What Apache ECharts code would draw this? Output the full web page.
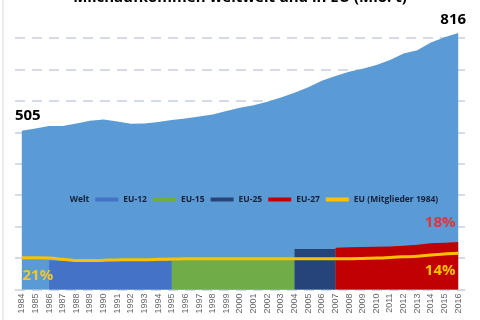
<!DOCTYPE html>
<html>
<head>
<meta charset="utf-8">
<script src="https://cdn.jsdelivr.net/npm/echarts@6/dist/echarts.min.js"></script>
<style>
  html, body { margin: 0; padding: 0; background: #fff; }
  #main { width: 480px; height: 320px; }
</style>
</head>
<body>
<div id="main"></div>
<script>
var years = ['1984','1985','1986','1987','1988','1989','1990','1991','1992','1993','1994',
  '1995','1996','1997','1998','1999','2000','2001','2002','2003','2004','2005',
  '2006','2007','2008','2009','2010','2011','2012','2013','2014','2015','2016'];

// Mio. t
var welt = [505, 512, 520, 520, 528, 537, 541, 534, 527, 528, 533,
  539, 544, 550, 557, 568, 578, 586, 597, 611, 626, 643,
  664, 679, 693, 702, 714, 730, 751, 761, 786, 802, 816];

var eu12 = [null, null, 92, 92, 92, 92, 92, 92, 92, 91, 91, 91];
var eu15Years = ['1995','1996','1997','1998','1999','2000','2001','2002','2003','2004'];
var eu15 = [104, 104, 104, 104, 104, 104, 104, 104, 104, 104];
var eu25Years = ['2004','2005','2006','2007'];
var eu25 = [129, 129, 129, 129];
var eu27Years = ['2007','2008','2009','2010','2011','2012','2013','2014','2015','2016'];
var eu27 = [133, 134, 135, 136, 137, 139, 142, 147, 149, 151];

var eu1984 = [101, 101, 100, 96, 92, 92, 93, 94, 95, 95, 96,
  97, 98, 98, 98, 98, 98, 98, 98, 98, 98, 98,
  98, 98, 98, 99, 100, 102, 104, 106, 110, 113, 115];

var shareLabels = ['21%', '18%', '14%'];

function onYears(subYears, vals) {
  return years.map(function (y) {
    var i = subYears.indexOf(y);
    return i < 0 ? null : vals[i];
  });
}

var chart = echarts.init(document.getElementById('main'));

var weltData = welt.map(function (v, i) {
  if (i === 0) {
    return { value: v, label: { show: true, position: 'top', distance: 8, offset: [6, 0] } };
  }
  if (i === welt.length - 1) {
    return { value: v, label: { show: true, position: 'top', distance: 6, offset: [-5, 0] } };
  }
  return v;
});

var eu27Data = onYears(eu27Years, eu27).map(function (v, i) {
  if (i === years.length - 1) {
    return { value: v, label: { show: true, formatter: shareLabels[1], position: 'top',
      distance: 12, offset: [-18, 0], color: '#e3323a', fontSize: 15, fontWeight: 'bold',
      fontFamily: 'Open Sans' } };
  }
  return v;
});

var yellowData = eu1984.map(function (v, i) {
  if (i === 0) {
    return { value: v, label: { show: true, formatter: shareLabels[0], position: 'bottom',
      distance: 10, offset: [16, 0], color: '#f4c531', fontSize: 15, fontWeight: 'bold',
      fontFamily: 'Open Sans' } };
  }
  if (i === eu1984.length - 1) {
    return { value: v, label: { show: true, formatter: shareLabels[2], position: 'bottom',
      distance: 10, offset: [-18, 0], color: '#ffc000', fontSize: 15, fontWeight: 'bold',
      fontFamily: 'Open Sans' } };
  }
  return v;
});

function areaSeries(name, data, color) {
  return {
    name: name,
    type: 'line',
    data: data,
    symbol: 'circle',
    symbolSize: 0,
    showSymbol: true,
    clip: false,
    lineStyle: { width: 0, color: color },
    areaStyle: { color: color, opacity: 1 },
    itemStyle: { color: color },
    label: { show: false },
    emphasis: { disabled: true }
  };
}

var welSeries = areaSeries('Welt', weltData, '#5b9bd5');
welSeries.label = { show: false, color: '#000', fontSize: 15, fontWeight: 'bold', fontFamily: 'Open Sans' };

var option = {
  animation: false,
  grid: { left: 15, right: 15, top: 38, bottom: 30.5 },
  graphic: [
    { type: 'text', left: 'center', top: -10,
      style: { text: 'Milchaufkommen weltweit und in EU (Mio. t)', fontSize: 15,
        fontWeight: 'bold', fill: '#000', fontFamily: 'Open Sans' } },
    { type: 'line', shape: { x1: 3, y1: 0, x2: 3, y2: 320 },
      style: { stroke: '#d9d9d9', lineWidth: 1 } }
  ],
  legend: {
    left: 'center',
    top: 190,
    itemWidth: 23,
    itemHeight: 4,
    itemGap: 6,
    icon: 'rect',
    textStyle: { fontSize: 8.5, fontWeight: 'bold', color: '#14203a', fontFamily: 'Open Sans' },
    data: ['Welt', 'EU-12', 'EU-15', 'EU-25', 'EU-27', 'EU (Mitglieder 1984)']
  },
  xAxis: {
    type: 'category',
    data: years,
    boundaryGap: true,
    axisTick: { show: false },
    axisLine: { show: true, lineStyle: { color: '#d9d9d9', width: 1 } },
    axisLabel: { rotate: 90, fontSize: 9, color: '#666666', margin: 4, fontFamily: 'Liberation Sans' }
  },
  yAxis: {
    type: 'value',
    min: 0,
    max: 800,
    interval: 100,
    axisLabel: { show: false },
    axisLine: { show: false },
    axisTick: { show: false },
    splitLine: { lineStyle: { color: '#d3dbe8', width: 2, type: [10, 7] } }
  },
  series: [
    welSeries,
    areaSeries('EU-12', onYears(years.slice(0, eu12.length), eu12), '#4472c4'),
    areaSeries('EU-15', onYears(eu15Years, eu15), '#70ad47'),
    areaSeries('EU-25', onYears(eu25Years, eu25), '#264478'),
    areaSeries('EU-27', eu27Data, '#c00000'),
    {
      name: 'EU (Mitglieder 1984)',
      type: 'line',
      data: yellowData,
      symbol: 'circle',
      symbolSize: 0,
      showSymbol: true,
      smooth: 0.3,
      clip: false,
      lineStyle: { width: 3, color: '#ffc000' },
      itemStyle: { color: '#ffc000' },
      label: { show: false },
      emphasis: { disabled: true }
    }
  ]
};

chart.setOption(option);
</script>
</body>
</html>
